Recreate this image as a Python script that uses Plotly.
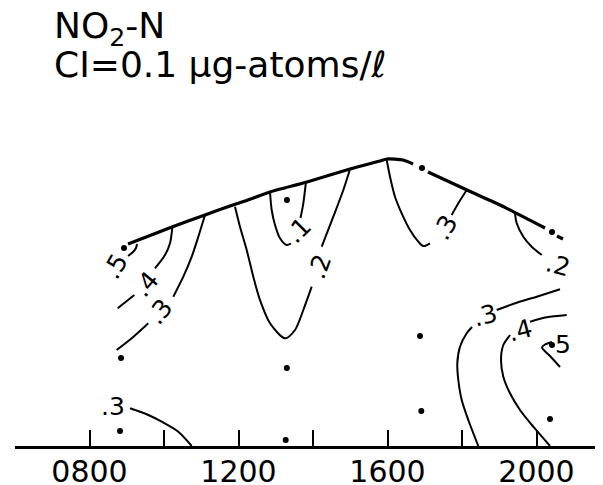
import plotly.graph_objects as go

# ---- data (x: time of day as HHMM number, y: height above bottom, arbitrary units) ----
tick_vals = [800, 1200, 1600, 2000]
tick_text = ["0800", "1200", "1600", "2000"]
minor_vals = [600, 1000, 1400, 1800]

# sampling stations
station_x = [892.6, 884.6, 881.9, 1330.0, 1329.7, 1326.7, 1692.6, 1687.2, 1690.7, 2041.6, 2041.6, 2036.2]
station_y = [19.8, 8.8, 1.5, 24.6, 7.8, 0.6, 27.8, 11.0, 3.5, 21.4, 10.1, 2.7]

# surface (upper boundary)
surface_x = [903.4, 1021.5, 1110.1, 1177.2, 1217.4, 1284.6, 1383.9, 1499.3, 1579.9, 1598.7, 1641.6, 1668.5,
             None, 1708.7, 1813.4, 1902.0, 2022.8, None, 2055.0, 2071.1]
surface_y = [20.2, 21.9, 23.1, 24.0, 24.5, 25.4, 26.4, 27.7, 28.5, 28.7, 28.6, 28.2,
             None, 27.4, 25.6, 24.1, 21.8, None, 21.0, 20.7]

# contour lines (isolines of NO2-N)
c5a_x = [903.4, 916.8, 924.8, 927.5]
c5a_y = [19.0, 19.4, 19.8, 20.2]
c4a_x = [1022.3, 1016.1, 1002.7, 975.8, None, 920.3, 875.7]
c4a_y = [21.87, 20.27, 19.1, 17.77, None, 15.1, 13.77]
c3a_x = [1110.1, 1092.1, 1074.4, 1051.8, 1025.0, None, 957.9, 913.3, 873.0]
c3a_y = [23.1, 20.93, 18.93, 16.93, 14.93, None, 12.27, 10.77, 9.6]
c3b_x = [908.7, 957.9, 993.8, 1038.4, 1074.4]
c3b_y = [3.77, 3.1, 2.43, 1.43, 0.0]
c2a_x = [1190.6, 1204.0, 1222.0, 1239.7, 1257.7, 1284.6, 1324.8, 1351.7, 1374.0, 1396.5,
         None, 1423.4, 1454.5, 1481.4, 1499.3]
c2a_y = [23.93, 21.93, 19.6, 16.93, 14.6, 12.27, 10.77, 11.6, 13.6, 15.93,
         None, 19.93, 22.93, 25.6, 27.67]
c1_x = [1284.6, 1289.1, 1298.0, 1311.4, 1329.4, 1341.0, None, 1366.4, 1374.0, 1381.2]
c1_y = [25.37, 23.6, 22.1, 20.77, 20.1, 20.25, None, 22.8, 24.27, 26.43]
c3c_x = [1597.9, 1606.7, 1620.1, 1638.1, 1660.4, 1682.7, 1696.1, 1714.1, None, 1772.3, 1790.1, 1812.6]
c3c_y = [28.6, 26.93, 24.93, 23.27, 21.6, 20.43, 20.0, 20.27, None, 23.1, 24.27, 25.6]
c2b_x = [1942.3, 1946.9, 1964.6, 1987.1, 2014.0]
c2b_y = [23.27, 22.27, 20.93, 19.93, 19.1]
c3d_x = [2063.1, 2000.6, 1946.9, 1893.2, None, 1826.9, 1812.6, 1794.6, 1787.4, 1790.1, 1799.2, 1816.9, 1843.8]
c3d_y = [15.67, 14.93, 14.33, 13.6, None, 11.9, 11.27, 9.93, 8.27, 6.6, 4.6, 2.6, 0.0]
c4b_x = [2081.1, 2027.4, 1982.6, None, 1928.9, 1910.9, 1904.7, 1910.9, 1928.9, 1955.7, 1991.4, 2036.3]
c4b_y = [13.1, 12.87, 12.43, None, 11.1, 10.1, 8.6, 6.93, 5.27, 3.6, 1.93, 0.0]
c5b_x = [2041.6, 2022.8, 2014.8, 2036.3, 2063.1]
c5b_y = [10.4, 10.15, 9.85, 9.0, 7.9]

# contour labels
label_text = [".5", ".4", ".3", ".3", ".2", ".1", ".3", ".2", ".3", ".4", "5"]
label_x = [868.5, 950.9, 989.3, 863.1, 1417.0, 1359.7, 1754.4, 2058.6, 1861.8, 1955.7, 2070.2]
label_y = [18.0, 16.17, 13.43, 4.0, 18.0, 21.6, 21.87, 18.03, 13.1, 11.6, 10.2]
label_angle = [-60, -50, -50, 0, -70, -45, -60, 15, -15, -15, 0]

FONT = "DejaVu Sans"
OFF = 8          # default page body margin in the written html
PLOT_W = 588     # plot area width in px
PLOT_H = 446 - OFF

fig = go.Figure()

contours = [(c5a_x, c5a_y), (c4a_x, c4a_y), (c3a_x, c3a_y), (c3b_x, c3b_y), (c2a_x, c2a_y),
            (c1_x, c1_y), (c3c_x, c3c_y), (c2b_x, c2b_y), (c3d_x, c3d_y), (c4b_x, c4b_y),
            (c5b_x, c5b_y)]
for cx, cy in contours:
    fig.add_trace(go.Scatter(x=cx, y=cy, mode="lines",
                             line=dict(color="black", width=2, shape="spline", smoothing=0.8),
                             connectgaps=False, hoverinfo="skip", cliponaxis=False))

fig.add_trace(go.Scatter(x=surface_x, y=surface_y, mode="lines",
                         line=dict(color="black", width=3.2, shape="spline", smoothing=0.6),
                         connectgaps=False, hoverinfo="skip", cliponaxis=False))

fig.add_trace(go.Scatter(x=station_x, y=station_y, mode="markers",
                         marker=dict(color="black", size=6), hoverinfo="skip", cliponaxis=False))

for t, lx, ly, la in zip(label_text, label_x, label_y, label_angle):
    fig.add_annotation(x=lx, y=ly, xref="x", yref="y", text=t, showarrow=False, textangle=la,
                       font=dict(family=FONT, size=25, color="black"))

fig.add_annotation(x=(52 - 15) / PLOT_W, y=(446 - 28) / PLOT_H, xref="paper", yref="paper",
                   xanchor="left", yanchor="middle", showarrow=False,
                   text="NO<sub>2</sub>-N", font=dict(family=FONT, size=36, color="black"))
fig.add_annotation(x=(52 - 15) / PLOT_W, y=(446 - 64) / PLOT_H, xref="paper", yref="paper",
                   xanchor="left", yanchor="middle", showarrow=False,
                   text="CI=0.1 μg-atoms/ℓ", font=dict(family=FONT, size=36, color="black"))

fig.update_layout(
    width=603 - OFF, height=485 - OFF,
    margin=dict(l=15 - OFF, r=0, t=0, b=39, autoexpand=False),
    paper_bgcolor="white", plot_bgcolor="white",
    showlegend=False,
    xaxis=dict(range=[600, 2178.5], showline=True, linecolor="black", linewidth=2.5,
               showgrid=False, zeroline=False, ticks="inside", ticklen=16, tickwidth=2,
               tickcolor="black", tickmode="array", tickvals=tick_vals, ticktext=tick_text,
               tickfont=dict(family=FONT, size=30, color="black"), automargin=False,
               ticklabelstandoff=-3,
               minor=dict(tickmode="array", tickvals=minor_vals, ticks="inside", ticklen=16,
                          tickwidth=2, tickcolor="black", showgrid=False)),
    yaxis=dict(range=[0, 43.8], visible=False, showgrid=False, zeroline=False),
)

fig.write_html("out.html")
